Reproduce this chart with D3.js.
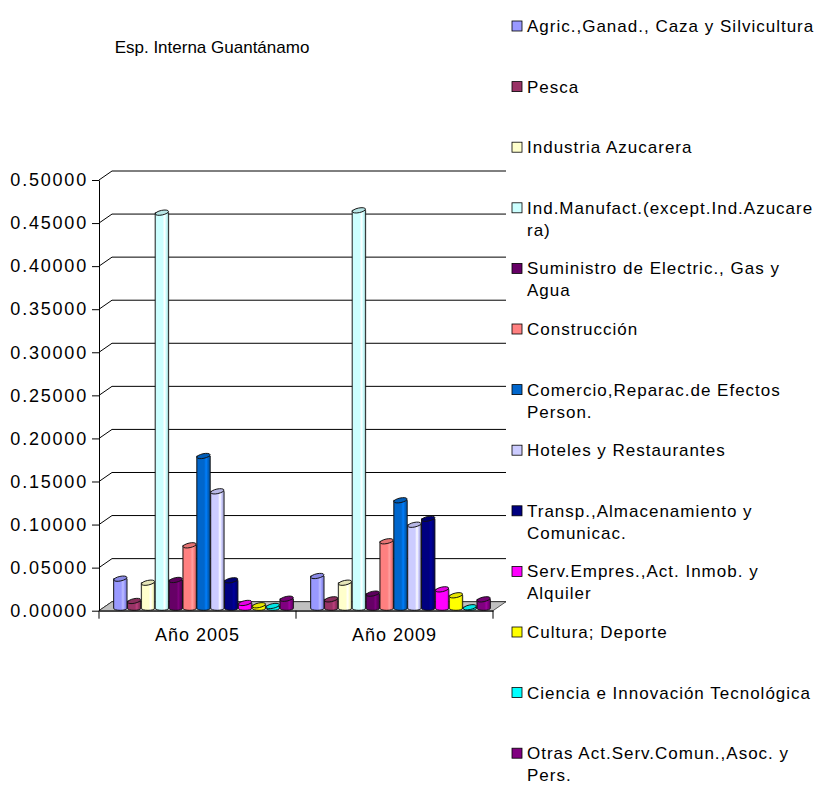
<!DOCTYPE html>
<html lang="es">
<head>
  <meta charset="UTF-8">
  <title>Esp. Interna Guantánamo</title>
  <style>
    body { margin: 0; background: #fff; }
    text { font-family: "Liberation Sans", Arial, sans-serif; fill: #000; }
  </style>
</head>
<body>
  <svg width="822" height="789"></svg>
  <script src="https://cdn.jsdelivr.net/npm/d3@7/dist/d3.min.js"></script>
  <script>
    // datos
    var categories = ["Año 2005", "Año 2009"];
    var series = [
      "Agric.,Ganad., Caza y Silvicultura",
      "Pesca",
      "Industria Azucarera",
      "Ind.Manufact.(except.Ind.Azucare\nra)",
      "Suministro de Electric., Gas y\nAgua",
      "Construcción",
      "Comercio,Reparac.de Efectos\nPerson.",
      "Hoteles y Restaurantes",
      "Transp.,Almacenamiento y\nComunicac.",
      "Serv.Empres.,Act. Inmob. y\nAlquiler",
      "Cultura; Deporte",
      "Ciencia e Innovación Tecnológica",
      "Otras Act.Serv.Comun.,Asoc. y\nPers."
    ];
    var colors = ["#9999ff", "#993366", "#ffffcc", "#ccffff", "#660066", "#ff8080", "#0066cc",
      "#ccccff", "#000080", "#ff00ff", "#ffff00", "#00ffff", "#800080"];
    var values2005 = [0.0344, 0.0085, 0.0297, 0.4593, 0.0329, 0.0731, 0.1768, 0.1358, 0.0325, 0.0062, 0.0035, 0.0027, 0.0111];
    var values2009 = [0.0375, 0.0104, 0.0297, 0.4620, 0.0170, 0.0778, 0.1254, 0.0970, 0.1040, 0.0220, 0.0151, 0.0012, 0.0104];
    var yTicks = [0, 0.05, 0.1, 0.15, 0.2, 0.25, 0.3, 0.35, 0.4, 0.45, 0.5];
    var title = "Esp. Interna Guantánamo";

    var valuesByCat = [values2005, values2009];

    var svg = d3.select("svg");
    var defs = svg.append("defs");

    // geometria del "3D"
    var left = 99, right = 493;
    var depthX = 13, depthY = -9;     // desplazamiento de la pared de fondo
    var barDX = 6, barDY = -2.4;      // profundidad de las columnas

    var y = d3.scaleLinear().domain([0, 0.5]).range([610.7, 180]);
    var x0 = d3.scaleBand().domain(categories).range([left, right]);
    var x1 = d3.scaleBand().domain(d3.range(series.length))
      .range([0, x0.bandwidth()])
      .paddingInner(0.03)
      .paddingOuter(0.62);

    // titulo
    svg.append("text")
      .attr("x", 212)
      .attr("y", 47)
      .attr("dy", "0.35em")
      .attr("text-anchor", "middle")
      .style("font-size", "17px")
      .text(title);

    // rejilla: pared izquierda + pared de fondo
    var grid = svg.append("g");
    grid.selectAll("polyline")
      .data(yTicks)
      .enter()
      .append("polyline")
      .attr("points", function (d) {
        var yy = y(d);
        return [[left, yy], [left + depthX, yy + depthY], [right + depthX, yy + depthY]].join(" ");
      })
      .attr("fill", "none")
      .attr("stroke", "#000")
      .attr("stroke-width", 1);

    // suelo
    svg.append("polygon")
      .attr("points", [
        [left, y(0)], [right, y(0)],
        [right + depthX, y(0) + depthY], [left + depthX, y(0) + depthY]
      ].join(" "))
      .attr("fill", "#c0c0c0")
      .attr("stroke", "#333")
      .attr("stroke-width", 0.8);

    // gradientes cilindricos
    colors.forEach(function (c, i) {
      var g = defs.append("linearGradient")
        .attr("id", "cyl" + i)
        .attr("x1", 0).attr("x2", 1).attr("y1", 0).attr("y2", 0);
      var base = d3.color(c);
      var stops = [
        [0, base.darker(0.7)],
        [0.1, base],
        [0.55, base],
        [0.7, base.brighter(0.6)],
        [0.82, base],
        [1, base.darker(0.8)]
      ];
      stops.forEach(function (s) {
        g.append("stop").attr("offset", s[0]).attr("stop-color", s[1].formatHex());
      });
    });

    // columnas
    var bars = svg.append("g");
    var flat = [];
    categories.forEach(function (cat, ci) {
      valuesByCat[ci].forEach(function (v, si) {
        flat.push({ cat: cat, s: si, v: v });
      });
    });

    var barG = bars.selectAll("g.bar")
      .data(flat)
      .enter()
      .append("g")
      .attr("class", "bar")
      .attr("transform", "translate(" + barDX + "," + barDY + ")");

    barG.append("path")
      .attr("d", function (d) {
        var bx = x0(d.cat) + x1(d.s);
        var w = x1.bandwidth();
        var top = y(d.v);
        var bot = y(0);
        return "M" + bx + "," + top + "L" + bx + "," + bot +
          "A" + (w / 2) + ",2 0 0 0 " + (bx + w) + "," + bot +
          "L" + (bx + w) + "," + top + "Z";
      })
      .attr("fill", function (d) { return "url(#cyl" + d.s + ")"; })
      .attr("stroke", "#111")
      .attr("stroke-width", 0.9);

    barG.append("ellipse")
      .attr("cx", function (d) { return x0(d.cat) + x1(d.s) + x1.bandwidth() / 2; })
      .attr("cy", function (d) { return y(d.v); })
      .attr("rx", x1.bandwidth() / 2)
      .attr("ry", 2.3)
      .attr("transform", function (d) {
        return "rotate(-12," + (x0(d.cat) + x1(d.s) + x1.bandwidth() / 2) + "," + y(d.v) + ")";
      })
      .attr("fill", function (d) { return d3.color(colors[d.s]).darker(0.3).formatHex(); })
      .attr("stroke", "#111")
      .attr("stroke-width", 0.9);

    // eje Y
    var yAxis = svg.append("g")
      .attr("transform", "translate(" + left + ",0)")
      .call(d3.axisLeft(y)
        .tickValues(yTicks)
        .tickSize(7)
        .tickSizeOuter(0)
        .tickPadding(4)
        .tickFormat(d3.format(".5f")));
    yAxis.select(".domain").attr("stroke", "#000");
    yAxis.selectAll("line").attr("stroke", "#000");
    yAxis.selectAll("text")
      .style("font-size", "18px")
      .style("letter-spacing", "1.8px")
      .attr("font-family", null);

    // eje X
    var xAxis = svg.append("g")
      .attr("transform", "translate(0," + y(0) + ")")
      .call(d3.axisBottom(x0).tickSize(0).tickPadding(17.5));
    xAxis.select(".domain").attr("stroke", "#000");
    xAxis.selectAll("text")
      .style("font-size", "18px")
      .style("letter-spacing", "1px")
      .attr("font-family", null);

    // marcas en los limites de categoria
    var bounds = categories.map(function (c) { return x0(c); }).concat([right]);
    xAxis.selectAll("line.bound")
      .data(bounds)
      .enter()
      .append("line")
      .attr("class", "bound")
      .attr("x1", function (d) { return d; })
      .attr("x2", function (d) { return d; })
      .attr("y1", 0)
      .attr("y2", 8)
      .attr("stroke", "#000");

    // leyenda
    var legend = svg.append("g")
      .attr("transform", "translate(512,0)");
    var item = legend.selectAll("g")
      .data(series)
      .enter()
      .append("g")
      .attr("transform", function (d, i) { return "translate(0," + (26 + i * 60.6) + ")"; });

    item.append("rect")
      .attr("x", 0)
      .attr("y", -5)
      .attr("width", 10)
      .attr("height", 10)
      .attr("fill", function (d, i) { return colors[i]; })
      .attr("stroke", "#000")
      .attr("stroke-width", 0.8);

    item.append("text")
      .style("font-size", "17px")
      .style("letter-spacing", "1px")
      .each(function (d) {
        var t = d3.select(this);
        d.split("\n").forEach(function (line, k) {
          t.append("tspan")
            .attr("x", 15)
            .attr("y", k * 22)
            .attr("dy", "0.35em")
            .text(line);
        });
      });
  </script>
</body>
</html>
